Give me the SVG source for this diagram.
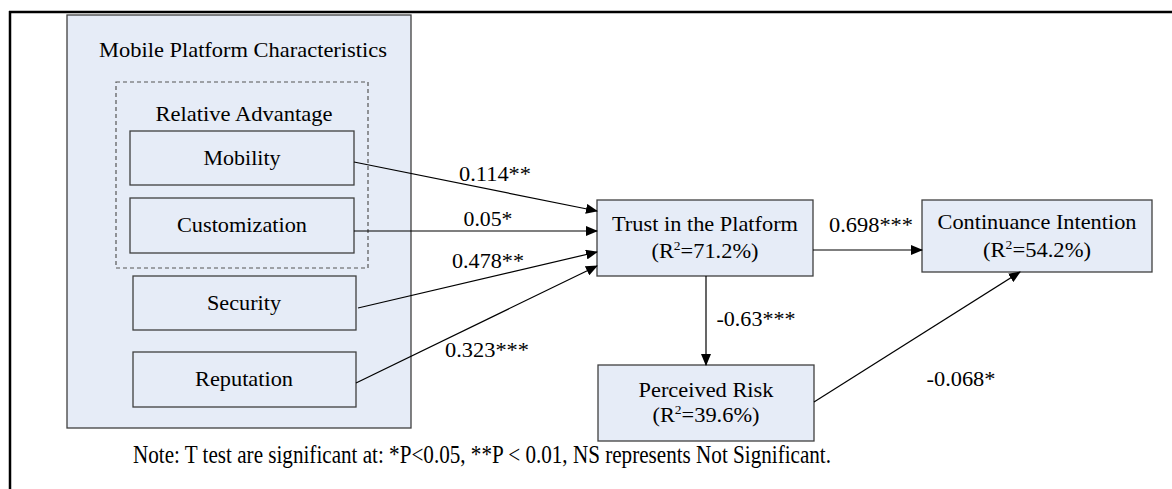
<svg xmlns="http://www.w3.org/2000/svg" width="1172" height="489" viewBox="0 0 1172 489">
<style>
  .t{font-family:"Liberation Serif","Times New Roman",serif;font-size:21.5px;fill:#000;text-anchor:middle}
  .box{fill:#e6ecf7;stroke:#404040;stroke-width:1.3}
  .con{stroke:#000;stroke-width:1.2;fill:none}
  .sup{font-size:13px}
</style>
<defs>
  <marker id="ah" markerWidth="12" markerHeight="10" refX="11" refY="5" orient="auto" markerUnits="userSpaceOnUse">
    <path d="M0,0 L12,5 L0,10 Z" fill="#000"/>
  </marker>
</defs>
<rect width="1172" height="489" fill="#fff"/>
<g id="frame">
  <line x1="9" y1="12" x2="1172" y2="12" stroke="#000" stroke-width="2.5"/>
  <line x1="10" y1="11" x2="10" y2="489" stroke="#000" stroke-width="2.5"/>
</g>
<g id="mobile-platform-characteristics">
  <rect class="box" x="67" y="15" width="344" height="413"/>
  <text class="t" x="243" y="57" textLength="288" lengthAdjust="spacingAndGlyphs">Mobile Platform Characteristics</text>
</g>
<g id="relative-advantage">
  <rect x="116" y="82" width="252" height="186" fill="none" stroke="#555" stroke-width="1.2" stroke-dasharray="4,3"/>
  <text class="t" x="244" y="121" textLength="177" lengthAdjust="spacingAndGlyphs">Relative Advantage</text>
</g>
<g id="mobility">
  <rect class="box" x="130" y="131" width="224" height="54"/>
  <text class="t" x="242" y="165" textLength="77" lengthAdjust="spacingAndGlyphs">Mobility</text>
</g>
<g id="customization">
  <rect class="box" x="130" y="198" width="224" height="55"/>
  <text class="t" x="242" y="232" textLength="130" lengthAdjust="spacingAndGlyphs">Customization</text>
</g>
<g id="security">
  <rect class="box" x="133" y="276" width="223" height="54"/>
  <text class="t" x="244" y="310" textLength="74" lengthAdjust="spacingAndGlyphs">Security</text>
</g>
<g id="reputation">
  <rect class="box" x="133" y="352" width="223" height="55"/>
  <text class="t" x="244" y="386" textLength="98" lengthAdjust="spacingAndGlyphs">Reputation</text>
</g>
<g id="trust">
  <rect class="box" x="597" y="200" width="216" height="76"/>
  <text class="t" x="705" y="231" textLength="186" lengthAdjust="spacingAndGlyphs">Trust in the Platform</text>
  <text class="t" x="705" y="258" textLength="107" lengthAdjust="spacingAndGlyphs">(R<tspan class="sup" dy="-8">2</tspan><tspan dy="8">=71.2%)</tspan></text>
</g>
<g id="perceived-risk">
  <rect class="box" x="598" y="365" width="216" height="76"/>
  <text class="t" x="706" y="397" textLength="135" lengthAdjust="spacingAndGlyphs">Perceived Risk</text>
  <text class="t" x="706" y="422" textLength="107" lengthAdjust="spacingAndGlyphs">(R<tspan class="sup" dy="-8">2</tspan><tspan dy="8">=39.6%)</tspan></text>
</g>
<g id="continuance-intention">
  <rect class="box" x="922" y="200" width="230" height="72"/>
  <text class="t" x="1037" y="229" textLength="199" lengthAdjust="spacingAndGlyphs">Continuance Intention</text>
  <text class="t" x="1037" y="257" textLength="108" lengthAdjust="spacingAndGlyphs">(R<tspan class="sup" dy="-8">2</tspan><tspan dy="8">=54.2%)</tspan></text>
</g>
<g id="connectors">
  <line class="con" x1="354" y1="162" x2="597" y2="211" marker-end="url(#ah)"/>
  <line class="con" x1="354" y1="231" x2="597" y2="231" marker-end="url(#ah)"/>
  <line class="con" x1="358" y1="308" x2="597" y2="252" marker-end="url(#ah)"/>
  <line class="con" x1="356" y1="383" x2="597" y2="266" marker-end="url(#ah)"/>
  <line class="con" x1="813" y1="250" x2="922" y2="250" marker-end="url(#ah)"/>
  <line class="con" x1="706" y1="276" x2="706" y2="365" marker-end="url(#ah)"/>
  <line class="con" x1="814" y1="402" x2="1020" y2="272" marker-end="url(#ah)"/>
</g>
<g id="labels">
  <text class="t" x="495" y="181" textLength="72" lengthAdjust="spacingAndGlyphs">0.114**</text>
  <text class="t" x="488" y="226" textLength="49" lengthAdjust="spacingAndGlyphs">0.05*</text>
  <text class="t" x="488" y="268" textLength="72" lengthAdjust="spacingAndGlyphs">0.478**</text>
  <text class="t" x="487" y="357" textLength="84" lengthAdjust="spacingAndGlyphs">0.323***</text>
  <text class="t" x="871" y="232" textLength="84" lengthAdjust="spacingAndGlyphs">0.698***</text>
  <text class="t" x="756" y="326" textLength="79" lengthAdjust="spacingAndGlyphs">-0.63***</text>
  <text class="t" x="961" y="386" textLength="69" lengthAdjust="spacingAndGlyphs">-0.068*</text>
  <text class="t" x="482" y="463" style="font-size:25px" textLength="698" lengthAdjust="spacingAndGlyphs">Note: T test are significant at: *P&lt;0.05, **P &lt; 0.01, NS represents Not Significant.</text>
</g>
</svg>
